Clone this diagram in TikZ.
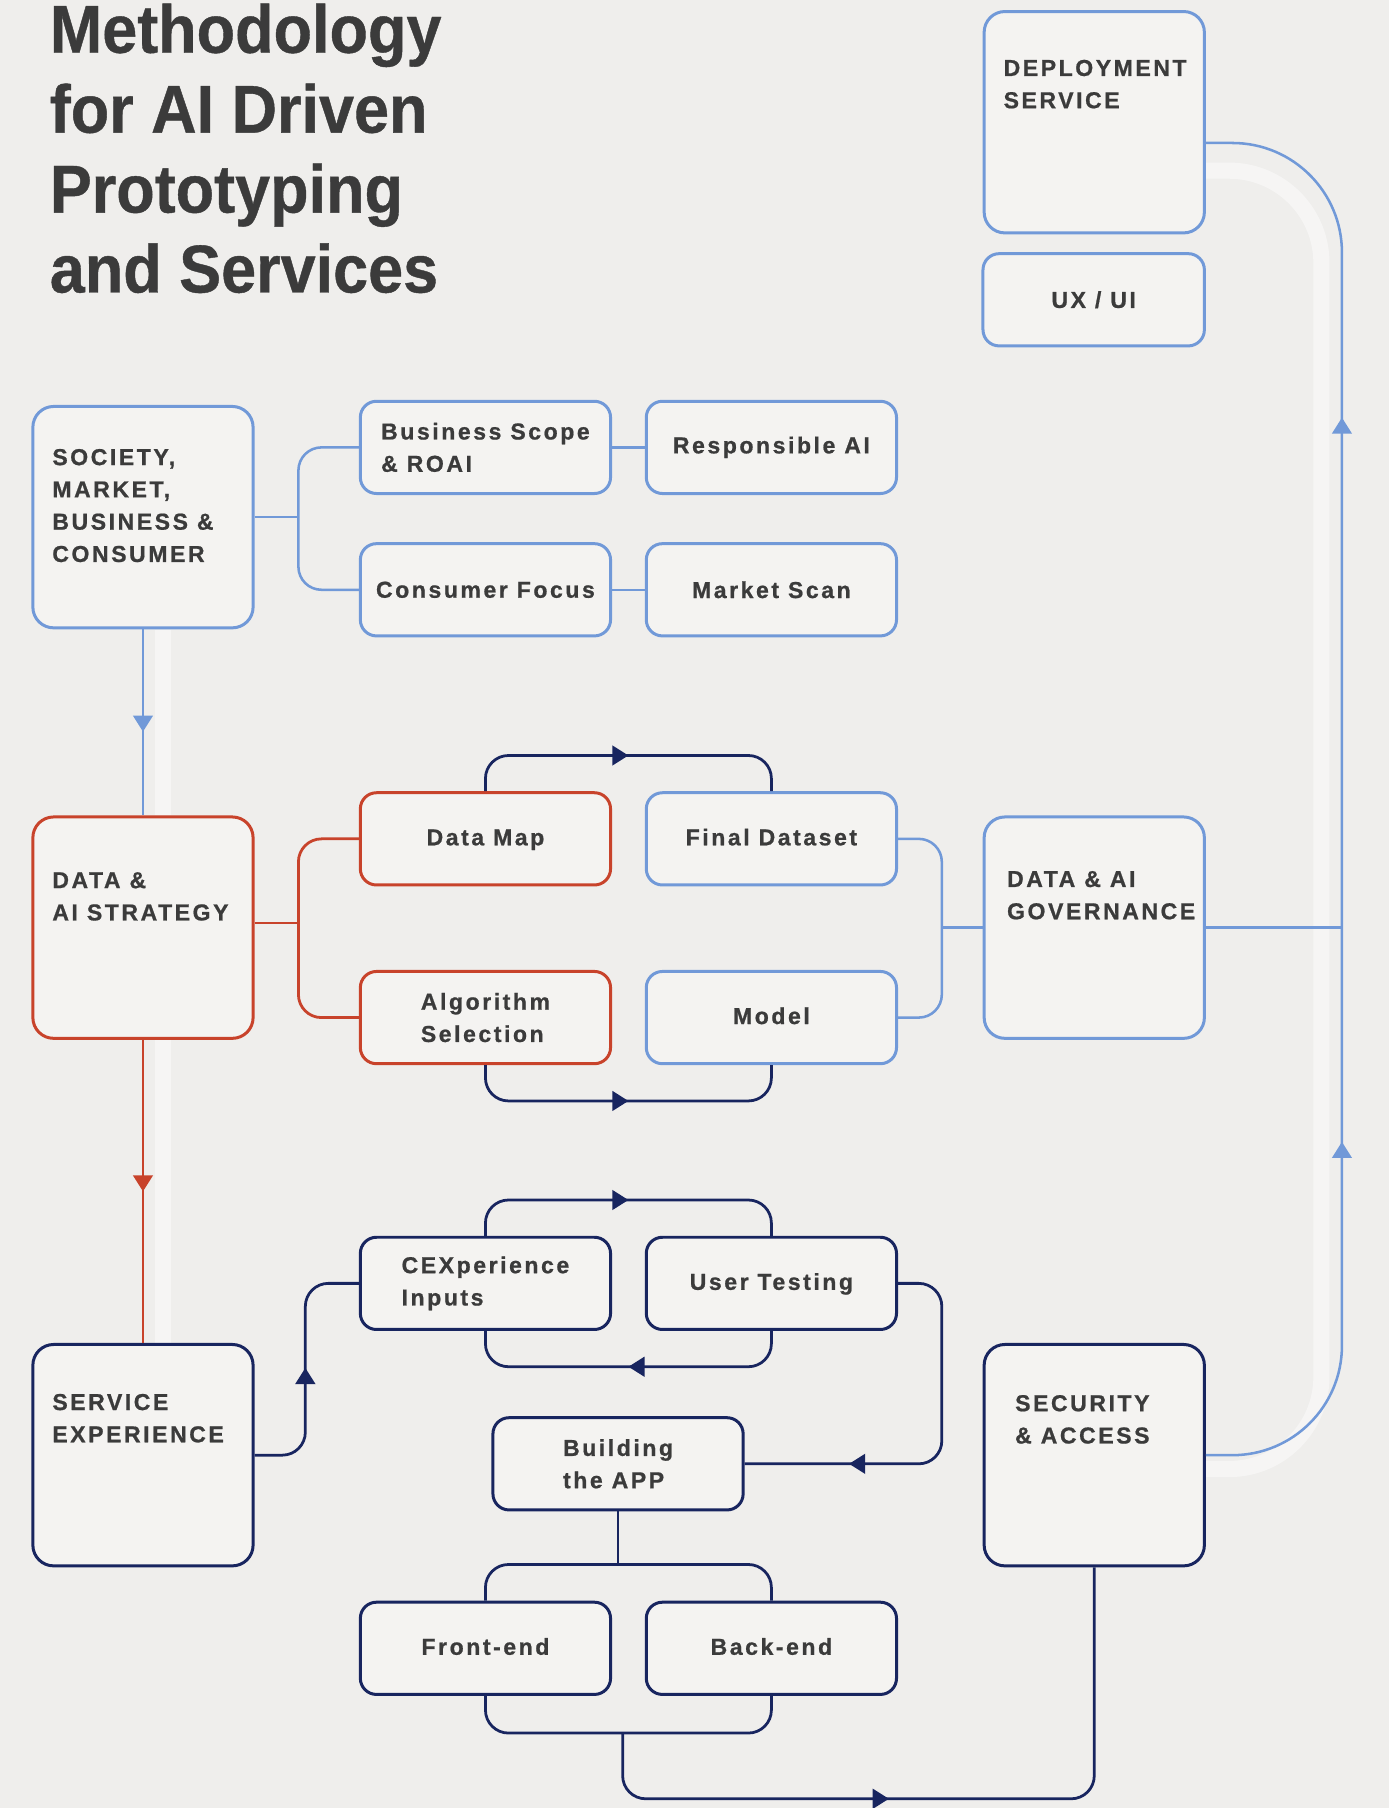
\documentclass[tikz,border=0pt]{standalone}
\usepackage{fontspec}
\usetikzlibrary{arrows.meta,decorations.markings}

\newfontfamily\titlefont[FakeStretch=0.93, FakeBold=0.6]{Liberation Sans}
\newfontfamily\labelfont[LetterSpace=11, FakeBold=0.8]{Liberation Sans}

\definecolor{paper}{HTML}{EFEEEC}
\definecolor{boxfill}{HTML}{F4F3F1}
\definecolor{cSky}{HTML}{7199D8}
\definecolor{cRust}{HTML}{C8432B}
\definecolor{cNavy}{HTML}{18255F}
\definecolor{inkgray}{HTML}{3B3B3B}

\begin{document}
\begin{tikzpicture}
    [
        x=1pt, y=-1pt,
        bigbox/.style = {draw, shape=rectangle, rounded corners=18pt, minimum width=191pt, minimum height=192pt, line width=2.6pt, fill=boxfill},
        smallbox/.style = {draw, shape=rectangle, rounded corners=14pt, minimum width=217pt, minimum height=80pt, line width=2.6pt, fill=boxfill, align=left, text=inkgray, font=\labelfont\bfseries\fontsize{20}{28}\selectfont},
        bigtext/.style = {anchor=north west, inner sep=0pt, align=left, text=inkgray, font=\labelfont\bfseries\fontsize{20}{28}\selectfont},
        titletext/.style = {anchor=north west, inner sep=0pt, align=left, text=inkgray, font=\titlefont\bfseries\fontsize{58.7}{69.3}\selectfont},
        skybox/.style = {draw=cSky},
        rustbox/.style = {draw=cRust},
        navybox/.style = {draw=cNavy},
        skylink/.style = {draw=cSky, line width=2.2pt, rounded corners=20pt},
        rustlink/.style = {draw=cRust, line width=2.4pt, rounded corners=20pt},
        navylink/.style = {draw=cNavy, line width=2.4pt, rounded corners=20pt},
        halo/.style = {draw=white, line width=14pt, opacity=0.45},
        midarrow/.style = {postaction={decorate, decoration={markings, mark=at position #1 with {\arrow{Triangle[length=14pt, width=17pt]}}}}},
        railarrows/.style = {postaction={decorate, decoration={markings,
            mark=at position 0.27 with {\arrow{Triangle[length=14pt, width=17pt]}},
            mark=at position 0.756 with {\arrow{Triangle[length=14pt, width=17pt]}}}}},
    ]

    \useasboundingbox (0,0) rectangle (1205,1568);
    \fill[paper] (0,0) rectangle (1205,1568);

    % channels behind the long lines
    \draw[halo, rounded corners=80pt] (1046,1274) -- (1146,1274) -- (1146,148) -- (1046,148);
    \draw[halo] (141,546) -- (141,707);
    \draw[halo] (141,902) -- (141,1165);

    \node[titletext] (title) at (43,3) {Methodology\\for AI Driven\\Prototyping\\and Services};

    % big boxes
    \node[bigbox, skybox]  (deploy)  at (949,106)    {};
    \node[bigbox, skybox]  (soc)     at (124,448.5)  {};
    \node[bigbox, rustbox] (strat)   at (124,804.5)  {};
    \node[bigbox, skybox]  (gov)     at (949,804.5)  {};
    \node[bigbox, navybox] (service) at (124,1262)   {};
    \node[bigbox, navybox] (secu)    at (949,1262)   {};

    \node[bigtext] (deploy-t)  at ([shift={(18,43)}]deploy.north west)  {DEPLOYMENT\\SERVICE};
    \node[bigtext] (soc-t)     at ([shift={(18,38)}]soc.north west)     {SOCIETY,\\MARKET,\\BUSINESS \&\\CONSUMER};
    \node[bigtext] (strat-t)   at ([shift={(18,49)}]strat.north west)   {DATA \&\\AI STRATEGY};
    \node[bigtext] (gov-t)     at ([shift={(21,48)}]gov.north west)     {DATA \& AI\\GOVERNANCE};
    \node[bigtext] (service-t) at ([shift={(18,44)}]service.north west) {SERVICE\\EXPERIENCE};
    \node[bigtext] (secu-t)    at ([shift={(28,45)}]secu.north west)    {SECURITY\\\& ACCESS};

    % small boxes
    \node[smallbox, skybox, minimum width=192pt] (uxui) at (948.5,260) {UX / UI};

    \node[smallbox, skybox]  (bscope)   at (421,388)    {Business Scope\\\& ROAI};
    \node[smallbox, skybox]  (respai)   at (669,388)    {Responsible AI};
    \node[smallbox, skybox]  (cfocus)   at (421,511.5)  {Consumer Focus};
    \node[smallbox, skybox]  (mscan)    at (669,511.5)  {Market Scan};

    \node[smallbox, rustbox] (datamap)  at (421,727.5)  {\strut Data Map};
    \node[smallbox, skybox]  (finalds)  at (669,727.5)  {\strut Final Dataset};
    \node[smallbox, rustbox] (algo)     at (421,882.5)  {Algorithm\\Selection};
    \node[smallbox, skybox]  (model)    at (669,882.5)  {\strut Model};

    \node[smallbox, navybox] (cex)      at (421,1113)   {CEXperience\\Inputs};
    \node[smallbox, navybox] (usertest) at (669,1113)   {\strut User Testing};
    \node[smallbox, navybox] (build)    at (536,1269.5) {Building\\the APP};
    \node[smallbox, navybox] (front)    at (421,1429.5) {\strut Front-end};
    \node[smallbox, navybox] (back)     at (669,1429.5) {\strut Back-end};

    % society branch
    \coordinate (socfork) at ([shift={(38,0)}]soc.east);
    \draw[skylink] (soc.east) -- (socfork);
    \draw[skylink] (bscope.west) -| (socfork) |- (cfocus.west);
    \draw[skylink] (bscope) -- (respai);
    \draw[skylink] (cfocus) -- (mscan);
    \draw[skylink, midarrow=0.55] (soc) -- (strat);

    % strategy branch
    \coordinate (stratfork) at ([shift={(38,-4)}]strat.east);
    \draw[rustlink] ([shift={(0,-4)}]strat.east) -- (stratfork);
    \draw[rustlink] (datamap.west) -| (stratfork) |- (algo.west);
    \draw[navylink, midarrow=0.5] (datamap.north) -- ++(0,-31) -| (finalds.north);
    \draw[navylink, midarrow=0.5] (algo.south) -- ++(0,31) -| (model.south);
    \draw[rustlink, midarrow=0.5] (strat) -- (service);

    % governance
    \coordinate (govfork) at ([shift={(38,0)}]finalds.east |- gov.west);
    \draw[skylink] (finalds.east) -| (govfork) |- (model.east);
    \draw[skylink] (govfork) -- (gov.west);

    % right rail
    \coordinate (deploytap) at ([shift={(0,18)}]deploy.east);
    \draw[skylink, rounded corners=95pt, railarrows] (secu.east) -- ([shift={(118,0)}]secu.east) -- ([shift={(118,0)}]deploytap) -- (deploytap);
    \draw[skylink] (gov.east) -- ([shift={(118,0)}]gov.east);

    % service experience loop
    \draw[navylink, midarrow=0.5] (service.east) -- ++(44,0) |- (cex.west);
    \draw[navylink, midarrow=0.5] (cex.north) -- ++(0,-31) -| (usertest.north);
    \draw[navylink, midarrow=0.5] (usertest.south) -- ++(0,31) -| (cex.south);
    \draw[navylink, midarrow=0.74] (usertest.east) -- ++(38,0) |- (build.east);

    % building the app
    \coordinate (buildfork) at ([shift={(0,46)}]build.south);
    \draw[navylink] (build.south) -- (buildfork);
    \draw[navylink] (front.north) |- (buildfork) -| (back.north);
    \coordinate (endfork) at (540,1503);
    \draw[navylink] (front.south) |- (endfork) -| (back.south);
    \draw[navylink, midarrow=0.43] (endfork) -- ++(0,57) -| (secu.south);
\end{tikzpicture}
\end{document}
